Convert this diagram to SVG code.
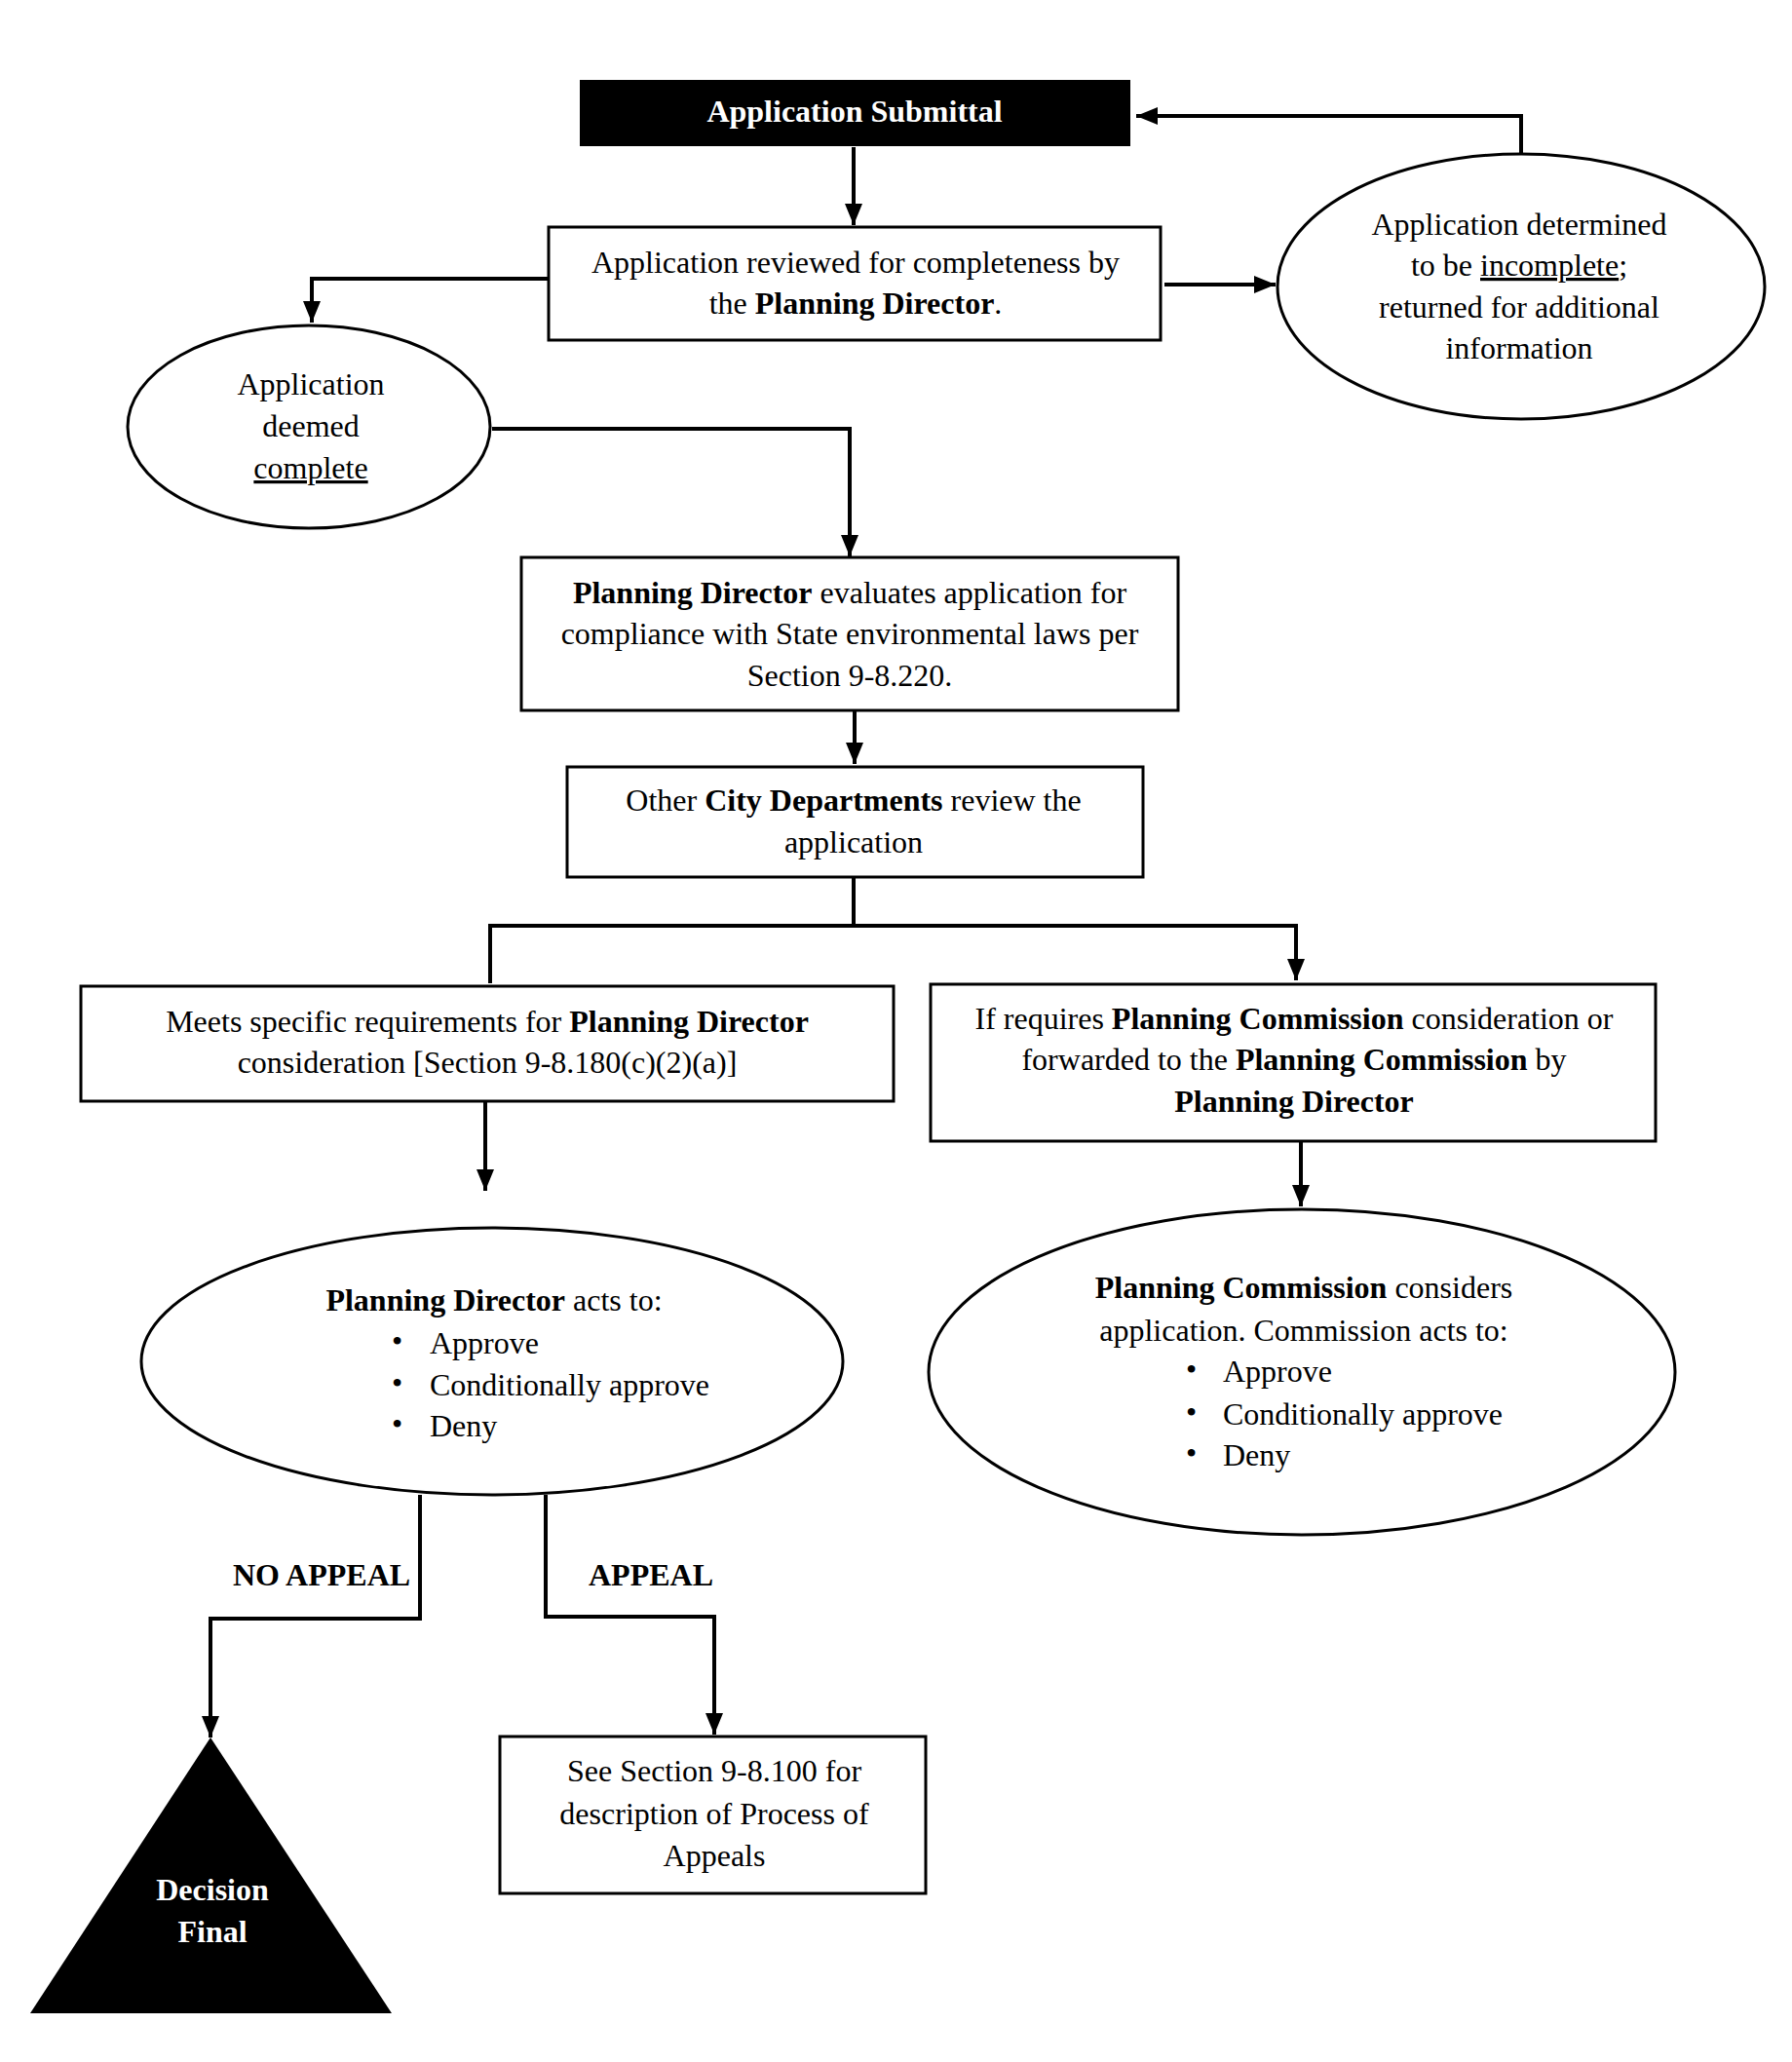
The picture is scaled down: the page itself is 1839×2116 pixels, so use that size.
<svg xmlns="http://www.w3.org/2000/svg" width="1839" height="2116" viewBox="0 0 1839 2116">
<style>
.t{font-family:"Liberation Serif","Times New Roman",serif;font-size:32px;fill:#000;text-anchor:middle}
.b{font-weight:bold}
.w{fill:#fff}
.box{fill:#fff;stroke:#000;stroke-width:3}
.ell{fill:#fff;stroke:#000;stroke-width:3}
.c{fill:none;stroke:#000;stroke-width:4}
</style>
<defs>
<marker id="ah" markerUnits="userSpaceOnUse" markerWidth="24" markerHeight="20" refX="22" refY="10" orient="auto">
<path d="M0,1 L22,10 L0,19 Z" fill="#000"/>
</marker>
</defs>
<rect width="1839" height="2116" fill="#fff"/>
<g id="connectors">
<line class="c" x1="876" y1="151" x2="876" y2="231" marker-end="url(#ah)"/>
<polyline class="c" points="1561,158 1561,119 1166,119" marker-end="url(#ah)"/>
<line class="c" x1="1195" y1="292" x2="1309" y2="292" stroke-width="5" marker-end="url(#ah)"/>
<polyline class="c" points="564,286 320,286 320,331" marker-end="url(#ah)"/>
<polyline class="c" points="505,440 872,440 872,571" marker-end="url(#ah)"/>
<line class="c" x1="877" y1="729" x2="877" y2="784" marker-end="url(#ah)"/>
<polyline class="c" points="876,901 876,952"/>
<polyline class="c" points="503,1009 503,950 1330,950 1330,1006" marker-end="url(#ah)"/>
<line class="c" x1="498" y1="1130" x2="498" y2="1222" marker-end="url(#ah)"/>
<line class="c" x1="1335" y1="1172" x2="1335" y2="1238" marker-end="url(#ah)"/>
<polyline class="c" points="431,1534 431,1661 216,1661 216,1783" marker-end="url(#ah)"/>
<polyline class="c" points="560,1534 560,1659 733,1659 733,1780" marker-end="url(#ah)"/>
</g>
<g id="submittal">
<rect x="595" y="82" width="565" height="68" fill="#000"/>
<text class="t b w" x="877" y="125" font-size="34">Application Submittal</text>
</g>
<g id="review">
<rect class="box" x="563" y="233" width="628" height="116"/>
<text class="t" x="878" y="280">Application reviewed for completeness by</text>
<text class="t" x="878" y="322">the <tspan class="b">Planning Director</tspan>.</text>
</g>
<g id="incomplete">
<ellipse class="ell" cx="1561" cy="294" rx="250" ry="136"/>
<text class="t" x="1559" y="241">Application determined</text>
<text class="t" x="1559" y="283">to be <tspan text-decoration="underline">incomplete</tspan>;</text>
<text class="t" x="1559" y="326">returned for additional</text>
<text class="t" x="1559" y="368">information</text>
</g>
<g id="complete">
<ellipse class="ell" cx="317" cy="438" rx="186" ry="104"/>
<text class="t" x="319" y="405">Application</text>
<text class="t" x="319" y="448">deemed</text>
<text class="t" x="319" y="491" text-decoration="underline">complete</text>
</g>
<g id="evaluates">
<rect class="box" x="535" y="572" width="674" height="157"/>
<text class="t" x="872" y="619"><tspan class="b">Planning Director</tspan> evaluates application for</text>
<text class="t" x="872" y="661">compliance with State environmental laws per</text>
<text class="t" x="872" y="704">Section 9-8.220.</text>
</g>
<g id="departments">
<rect class="box" x="582" y="787" width="591" height="113"/>
<text class="t" x="876" y="832">Other <tspan class="b">City Departments</tspan> review the</text>
<text class="t" x="876" y="875">application</text>
</g>
<g id="director-req">
<rect class="box" x="83" y="1012" width="834" height="118"/>
<text class="t" x="500" y="1059">Meets specific requirements for <tspan class="b">Planning Director</tspan></text>
<text class="t" x="500" y="1101">consideration [Section 9-8.180(c)(2)(a)]</text>
</g>
<g id="commission-req">
<rect class="box" x="955" y="1010" width="744" height="161"/>
<text class="t" x="1328" y="1056">If requires <tspan class="b">Planning Commission</tspan> consideration or</text>
<text class="t" x="1328" y="1098">forwarded to the <tspan class="b">Planning Commission</tspan> by</text>
<text class="t b" x="1328" y="1141">Planning Director</text>
</g>
<g id="director-acts">
<ellipse class="ell" cx="505" cy="1397" rx="360" ry="137"/>
<text class="t" x="507" y="1345"><tspan class="b">Planning Director</tspan> acts to:</text>
<g class="t" style="text-anchor:start">
<text x="402" y="1387">•</text><text x="441" y="1389">Approve</text>
<text x="402" y="1430">•</text><text x="441" y="1432">Conditionally  approve</text>
<text x="402" y="1472">•</text><text x="441" y="1474">Deny</text>
</g>
</g>
<g id="commission-acts">
<ellipse class="ell" cx="1336" cy="1408" rx="383" ry="167"/>
<text class="t" x="1338" y="1332"><tspan class="b">Planning Commission</tspan> considers</text>
<text class="t" x="1338" y="1376">application. Commission acts to:</text>
<g class="t" style="text-anchor:start">
<text x="1217" y="1416">•</text><text x="1255" y="1418">Approve</text>
<text x="1217" y="1460">•</text><text x="1255" y="1462">Conditionally approve</text>
<text x="1217" y="1502">•</text><text x="1255" y="1504">Deny</text>
</g>
</g>
<g id="labels">
<text class="t b" x="330" y="1627">NO APPEAL</text>
<text class="t b" x="668" y="1627">APPEAL</text>
</g>
<g id="appeals">
<rect class="box" x="513" y="1782" width="437" height="161"/>
<text class="t" x="733" y="1828">See Section 9-8.100 for</text>
<text class="t" x="733" y="1872">description of Process of</text>
<text class="t" x="733" y="1915">Appeals</text>
</g>
<g id="decision-final">
<polygon points="216,1783 31,2066 402,2066" fill="#000"/>
<text class="t b w" x="218" y="1950">Decision</text>
<text class="t b w" x="218" y="1993">Final</text>
</g>
</svg>
